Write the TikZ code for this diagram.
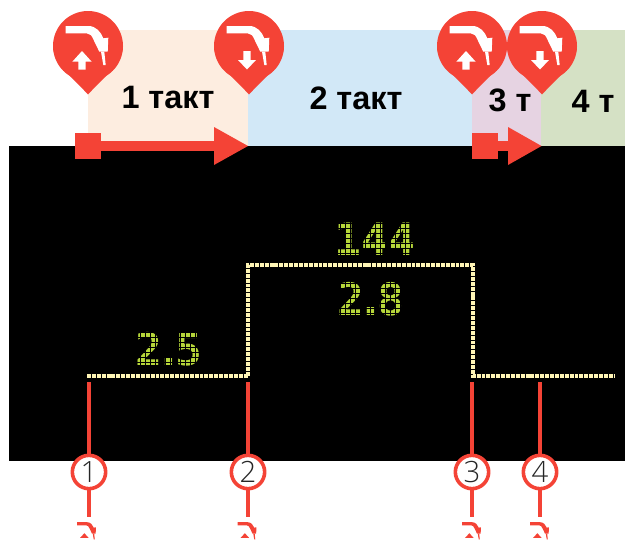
\documentclass[tikz,border=0pt]{standalone}
\usepackage{fontspec}
\setmainfont{Liberation Sans}
\newfontfamily\thinfont{Open Sans Light}
\newfontfamily\lcdfont{DejaVu Sans Mono Bold}
\definecolor{pinred}{HTML}{F44336}
\definecolor{trace}{HTML}{FFF5B5}
\definecolor{lcd}{HTML}{B6D63A}
\definecolor{bandA}{HTML}{FDEDE0}
\definecolor{bandB}{HTML}{D2E8F7}
\definecolor{bandC}{HTML}{E6D3E2}
\definecolor{bandD}{HTML}{D5E1C5}
\tikzset{
  px/.style={x=0.75pt,y=-0.75pt},
  bandlabel/.style={font=\bfseries\fontsize{24.3}{24.3}\selectfont,text=black,inner sep=0pt},
  lcdlabel/.style={font=\lcdfont\fontsize{33.5}{33.5}\selectfont,text=lcd,inner sep=0pt},
  redline/.style={draw=pinred,line width=3pt},
  stepcircle/.style={circle,draw=pinred,line width=2.7pt,fill=white,minimum size=25pt,inner sep=0pt,font=\thinfont\fontsize{22}{22}\selectfont,text=black!85},
  traceline/.style={draw=trace,line width=3pt,dash pattern=on 2.95pt off 0.72pt},
  gridline/.style={draw=black,line width=0.7pt}
}
\newcommand{\torchshape}[1]{%
  \fill[#1] (-22.3,-20) -- (0.3,-20) .. controls (8,-20) and (13,-14) .. (15.3,-7.7)
    -- (20.3,-8.3) -- (19.7,5.7) -- (11.3,5.7) -- (5.3,-6.7)
    .. controls (4,-10) and (2,-12.7) .. (-1.3,-12.7) -- (-22.3,-12.7) -- cycle;
  \fill[#1] (13,5.7) -- (15.3,19) -- (17.7,19) -- (16.3,5.7) -- cycle;
}
\newcommand{\pinbody}[2]{%
  \fill[pinred] (#1,46) circle[radius=35];
  \fill[pinred] (#1-35,46) .. controls (#1-35,63) and (#1-14,79) .. (#1,94.5)
    .. controls (#1+14,79) and (#1+35,63) .. (#1+35,46) -- cycle;
  \begin{scope}[shift={(#1,46)}]
    \torchshape{white}
    #2
  \end{scope}
}
\newcommand{\uparrowmark}{\fill[white] (-6,5) -- (3.7,15.7) -- (-2.3,15.7) -- (-2.3,23.5) -- (-9.7,23.5) -- (-9.7,15.7) -- (-15.7,15.7) -- cycle;}
\newcommand{\downarrowmark}{\fill[white] (-2,23.5) -- (7,14) -- (1.7,14) -- (1.7,5) -- (-5.7,5) -- (-5.7,14) -- (-11,14) -- cycle;}
\newcommand{\smalltorch}[1]{%
  \begin{scope}[shift={(#1,531)},scale=0.44]
    \torchshape{pinred}
    \fill[pinred] (-6,5) -- (3.7,15.7) -- (-15.7,15.7) -- cycle;
  \end{scope}
}
\begin{document}
\begin{tikzpicture}[px]
\useasboundingbox (0,0) rectangle (625,540);
\begin{scope}
\clip (0,0) rectangle (625,540);
% colour bands
\fill[bandA] (88,30) rectangle (248,146);
\fill[bandB] (248,30) rectangle (472,146);
\fill[bandC] (472,30) rectangle (541,146);
\fill[bandD] (541,30) rectangle (625,146);
% screen
\fill[black] (9,146) rectangle (625,461);
% labels
\node[bandlabel] (t1) at (168,98) {1 такт};
\node[bandlabel] (t2) at (356,98) {2 такт};
\node[bandlabel] (t3) at (510,100) {3 т};
\node[bandlabel] (t4) at (593,101) {4 т};
% pins
\pinbody{88}{\uparrowmark}
\pinbody{249}{\downarrowmark}
\pinbody{472}{\uparrowmark}
\pinbody{542}{\downarrowmark}
% block arrows
\coordinate (a1s) at (101,146); \coordinate (a1e) at (214,146);
\coordinate (a2s) at (498,146); \coordinate (a2e) at (508,146);
\fill[pinred] (75,133) rectangle (101,159);
\draw[pinred,line width=7.5pt] (a1s) -- (a1e);
\fill[pinred] (214,127) -- (248,146) -- (214,165) -- cycle;
\fill[pinred] (472,133) rectangle (498,159);
\draw[pinred,line width=7.5pt] (a2s) -- (a2e);
\fill[pinred] (508,127) -- (541.5,146) -- (508,165) -- cycle;
% trace
\coordinate (p0) at (87,376); \coordinate (p1) at (248,376);
\coordinate (p2) at (248,265); \coordinate (p3) at (473,265);
\coordinate (p4) at (473,376); \coordinate (p5) at (614,376);
\draw[traceline] (p0) -- (p1) -- (p2) -- (p3) -- (p4) -- (p5);
% readouts
\node[lcdlabel] (r144) at (375,239.5) {144};
\node[lcdlabel] (r28) at (371,299) {2\kern-5pt.\kern-5pt 8};
\node[lcdlabel] (r25) at (169,349) {2\kern-5pt.\kern-5pt 5};
\foreach \x in {330,335,...,420} \draw[gridline] (\x+0.5,218) -- (\x+0.5,261);
\foreach \y in {218,223,...,258} \draw[gridline] (330,\y+0.5) -- (420,\y+0.5);
\foreach \x in {330,335,...,420} \draw[gridline] (\x+0.5,278) -- (\x+0.5,322);
\foreach \y in {278,283,...,318} \draw[gridline] (330,\y+0.5) -- (420,\y+0.5);
\foreach \x in {125,130,...,215} \draw[gridline] (\x+0.5,327) -- (\x+0.5,371);
\foreach \y in {327,332,...,367} \draw[gridline] (125,\y+0.5) -- (215,\y+0.5);
% step markers
\node[stepcircle] (n1) at (89,472) {1};
\node[stepcircle] (n2) at (248,472) {2};
\node[stepcircle] (n3) at (472,472) {3};
\node[stepcircle] (n4) at (540,472) {4};
\foreach \n/\x in {1/89,2/248,3/472,4/540}{
  \coordinate (u\n) at (\x,382);
  \coordinate (d\n) at (\x,517);
  \draw[redline] (u\n) -- (n\n.north);
  \draw[redline] (n\n.south) -- (d\n);
}
\smalltorch{87}
\smalltorch{247.5}
\smalltorch{472}
\smalltorch{540}
\end{scope}
\end{tikzpicture}
\end{document}
